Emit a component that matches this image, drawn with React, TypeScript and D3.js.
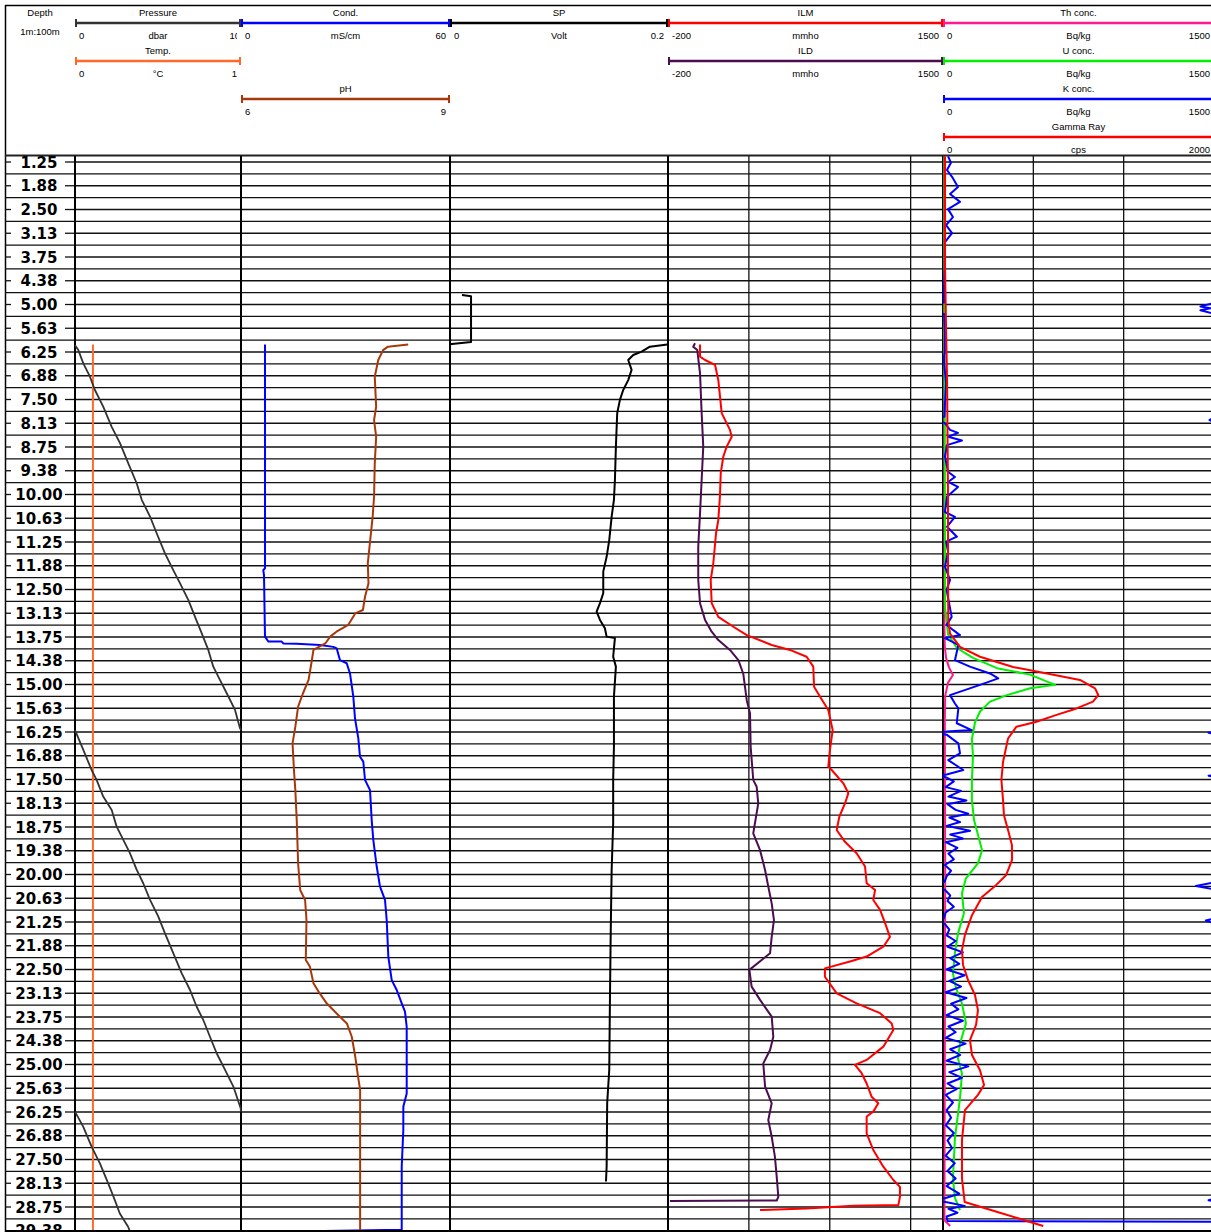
import React from 'react';
import * as d3 from 'd3';

// ---------------- DATA ----------------
const DEPTH_LABELS = ["1.25","1.88","2.50","3.13","3.75","4.38","5.00","5.63","6.25","6.88","7.50","8.13","8.75","9.38","10.00","10.63","11.25","11.88","12.50","13.13","13.75","14.38","15.00","15.63","16.25","16.88","17.50","18.13","18.75","19.38","20.00","20.63","21.25","21.88","22.50","23.13","23.75","24.38","25.00","25.63","26.25","26.88","27.50","28.13","28.75","29.38"];

// Pressure (dbar), wrapped every 10 dbar on display
const PRESSURE_DEPTH = [6.07,6.20,6.55,6.90,7.25,7.69,8.22,8.65,9.18,9.71,10.14,10.58,11.02,11.55,11.99,12.34,12.78,13.22,13.65,14.09,14.53,14.88,15.23,15.67,16.15,16.20,16.72,17.25,17.51,17.95,18.30,18.74,19.09,19.44,19.88,20.23,20.67,21.11,21.55,22.07,22.60,23.04,23.48,23.83,24.27,24.71,25.14,25.58,26.15,26.24,26.64,27.16,27.60,28.13,28.57,28.92,29.27,29.49];
const PRESSURE = [0.0,0.2,0.5,0.9,1.2,1.7,2.21,2.71,3.21,3.72,4.02,4.52,4.92,5.42,5.92,6.33,6.83,7.23,7.63,8.03,8.33,8.73,9.14,9.64,9.94,10.0,10.5,11.0,11.3,11.7,12.21,12.51,12.91,13.31,13.72,14.11,14.52,15.02,15.42,15.92,16.43,16.93,17.33,17.73,18.13,18.54,19.04,19.54,19.98,20.0,20.5,21.0,21.5,22.0,22.4,22.7,23.2,23.4];

// Temperature (°C, shown on a 0-1 scale)
const TEMP_DEPTH = [6.05, 10.0, 15.0, 20.0, 25.0, 29.45];
const TEMP = [0.108, 0.108, 0.108, 0.108, 0.108, 0.108];

// Conductivity (mS/cm)
const COND_DEPTH = [6.05,11.94,11.99,12.12,13.74,13.87,13.87,13.92,13.93,13.96,14.01,14.05,14.36,14.44,14.71,15.32,15.89,16.42,16.90,17.03,17.51,17.78,18.57,19.09,19.79,20.32,20.67,21.20,22.16,22.78,23.04,23.39,23.61,24.01,25.76,26.11,26.72,27.69,29.35,29.38];
const COND = [6.89,6.89,6.40,6.60,6.89,7.84,11.68,12.14,15.99,22.68,26.50,27.48,28.42,30.35,31.29,32.24,32.73,33.68,34.16,35.11,35.60,37.04,37.52,37.98,38.96,39.91,41.34,41.83,42.29,43.27,44.70,46.14,47.08,47.57,47.57,46.60,46.60,46.14,46.14,23.5];

// pH
const PH_DEPTH = [6.05,6.11,6.20,6.46,6.90,7.69,8.04,8.48,9.18,10.06,10.58,11.28,11.81,12.34,12.69,13.04,13.13,13.43,13.61,13.74,13.92,14.09,14.44,14.88,15.23,15.58,16.11,16.55,17.25,17.78,18.57,19.71,20.41,20.67,21.20,22.25,22.43,22.86,23.13,23.39,23.65,23.92,24.27,24.79,25.32,25.67,29.45];
const PH = [8.40,8.11,8.04,7.97,7.92,7.94,7.91,7.94,7.92,7.91,7.89,7.85,7.82,7.83,7.78,7.75,7.64,7.54,7.37,7.28,7.21,7.04,7.01,6.97,6.89,6.82,6.78,6.74,6.76,6.78,6.80,6.82,6.85,6.92,6.94,6.93,6.99,7.04,7.13,7.23,7.37,7.52,7.59,7.64,7.68,7.71,7.71];

// SP (Volt), wrapped on a 0-0.2 scale
const SP_DEPTH = [4.75,4.78,5.99,6.04,6.05,6.07,6.11,6.24,6.33,6.46,6.72,6.99,7.25,7.51,7.86,8.74,9.62,10.14,10.58,11.20,11.64,12.03,12.60,12.86,13.08,13.30,13.52,13.74,13.78,14.27,14.53,15.32,16.64,17.51,18.65,19.88,21.64,23.39,25.14,26.02,27.69,28.08];
const SP = [0.0110,0.0193,0.0193,0.0018,-0.0007,-0.0059,-0.0166,-0.0242,-0.0319,-0.0365,-0.0334,-0.0365,-0.0411,-0.0441,-0.0466,-0.0478,-0.0487,-0.0496,-0.0517,-0.0539,-0.0563,-0.0594,-0.0594,-0.0624,-0.0655,-0.0624,-0.0579,-0.0563,-0.0487,-0.0503,-0.0478,-0.0496,-0.0496,-0.0503,-0.0503,-0.0517,-0.0526,-0.0533,-0.0539,-0.0558,-0.0563,-0.0569];

// ILM (mmho)
const ILM_DEPTH = [6.05,6.37,6.46,6.59,6.99,7.86,8.30,8.48,8.74,9.00,9.44,10.06,10.67,11.02,11.81,12.25,12.86,13.22,13.48,13.70,13.96,14.09,14.27,14.53,15.06,15.32,15.67,16.20,16.72,17.16,17.25,17.60,17.86,18.13,18.48,18.83,19.14,19.44,19.79,20.23,20.41,20.67,20.93,21.28,21.64,21.90,22.16,22.29,22.47,22.69,23.13,23.39,23.65,23.92,24.09,24.53,24.88,25.01,25.23,25.50,25.85,26.02,26.24,26.37,26.81,27.25,27.69,28.04,28.22,28.48,28.70,28.72,28.79,28.83];
const ILM = [-2,-2,29,91,111,132,183,194,163,142,126,121,111,97,80,64,70,111,204,287,441,554,657,698,703,740,791,818,801,791,812,884,915,894,859,843,894,966,1018,1028,1080,1069,1111,1142,1172,1131,1028,925,770,770,843,966,1111,1183,1193,1131,1028,956,997,1028,1059,1100,1069,1028,1028,1069,1131,1193,1234,1234,1224,945,657,369];

// ILD (mmho)
const ILD_DEPTH = [6.02,6.11,6.20,6.81,7.86,8.74,9.62,10.49,11.37,12.25,12.86,13.30,13.61,13.83,14.09,14.36,14.71,15.42,15.76,16.64,17.51,17.69,18.13,18.92,19.36,19.88,20.32,20.76,21.20,21.64,22.07,22.25,22.51,22.95,23.30,23.74,24.27,24.62,24.97,25.58,26.02,26.46,26.90,27.43,27.95,28.48,28.58,28.59];
const ILD = [-33,-44,-19,-2,8,18,8,-2,-13,-13,-2,29,70,111,183,235,265,287,307,311,327,348,358,327,369,400,420,441,455,441,431,379,303,317,369,441,451,431,389,400,441,420,441,461,472,482,472,-188];

// Th conc. (Bq/kg)
const TH_DEPTH = [1.10,5.0,10.0,13.5,14.0,14.3,14.55,14.75,14.95,15.3,16.0,20.0,25.0,29.1,29.25];
const TH = [8,8,8,8,10,17,33,55,28,12,10,12,10,8,40];

// U conc. (Bq/kg)
const U_DEPTH = [1.10,6.0,10.0,13.0,13.68,14.04,14.30,14.57,14.74,15.01,15.10,15.28,15.45,15.71,16.00,16.44,16.88,17.51,18.04,18.57,18.96,19.36,19.70,20.10,20.49,21.02,21.55,22.07,22.60,22.99,23.39,23.92,24.45,24.84,25.24,25.89,26.94,27.99,28.51,28.83];
const U = [8,8,10,12,28,77,166,299,482,620,482,354,260,205,177,160,166,160,160,172,194,216,194,127,105,116,83,66,55,72,105,127,94,83,105,94,66,55,66,94];

// K conc. (Bq/kg), wrapped on a 0-1500 scale (negative readings wrap to the right edge)
const K_DEPTH = [1.10,1.27,1.46,1.64,1.91,2.09,2.30,2.49,2.70,2.91,3.12,3.36,4.00,4.69,4.95,5.05,5.10,5.15,5.25,5.75,6.27,6.35,6.54,7.06,7.60,7.95,8.04,8.12,8.30,8.38,8.48,8.58,8.70,9.00,9.40,9.54,9.67,9.80,10.06,10.46,10.59,10.85,11.11,11.24,11.50,11.90,12.25,12.51,13.22,13.43,13.57,13.70,13.78,13.96,14.36,14.53,14.71,14.84,15.01,15.28,15.50,15.63,16.02,16.20,16.24,16.27,16.32,16.55,16.81,16.99,17.25,17.37,17.40,17.45,17.55,17.70,17.80,17.95,18.05,18.15,18.30,18.40,18.50,18.62,18.72,18.85,18.95,19.05,19.15,19.30,19.45,19.60,19.75,19.90,20.05,20.20,20.30,20.40,20.55,20.70,20.85,21.00,21.15,21.21,21.30,21.45,21.60,21.75,21.90,22.05,22.20,22.35,22.50,22.65,22.80,22.95,23.10,23.25,23.40,23.55,23.70,23.85,24.00,24.15,24.30,24.45,24.60,24.75,24.90,25.05,25.20,25.35,25.50,25.65,25.80,26.00,26.20,26.40,26.60,26.80,27.00,27.20,27.40,27.60,27.80,28.00,28.20,28.40,28.52,28.57,28.62,28.72,28.80,28.90,29.00,29.12,29.14];
const K = [28,44,22,50,83,39,94,28,55,17,50,11,10,5,6,-75,-20,-75,6,11,10,6,6,17,11,8,-25,10,39,83,28,105,22,11,28,66,28,83,22,11,66,22,77,17,28,11,39,20,48,20,57,94,11,85,66,149,260,306,205,39,66,85,76,159,20,-30,20,85,94,29,112,20,-30,20,60,15,100,30,130,25,70,140,35,95,20,150,40,110,15,80,30,60,10,45,20,8,-100,10,40,25,60,15,5,-45,10,35,20,70,25,110,40,90,20,120,35,100,15,130,45,85,20,110,30,70,15,125,40,95,20,140,35,105,25,75,15,55,20,45,15,60,25,50,15,65,25,70,20,90,10,-30,15,120,30,80,20,25,1495];

// Gamma Ray (cps)
const GR_DEPTH = [1.10,4.0,5.5,7.0,10.0,12.0,13.31,13.66,14.01,14.27,14.54,14.71,14.88,15.10,15.28,15.45,15.63,15.80,15.98,16.11,16.42,17.04,17.51,18.04,18.44,18.83,19.23,19.62,20.02,20.28,20.59,21.07,21.59,21.99,22.38,22.78,23.17,23.57,23.96,24.36,24.75,25.15,25.54,25.80,26.20,26.99,28.00,28.62,28.90,29.25];
const GR = [15,15,22,30,37,37,39,52,125,273,517,768,1011,1122,1146,1107,986,838,690,542,480,443,431,443,450,480,509,509,465,391,288,214,162,140,148,185,236,258,244,199,214,273,303,258,162,140,140,160,420,740];

// ---------------- LAYOUT ----------------
const W = 1211;
const H = 1232;
const BODY_TOP = 155;
const X_P: [number, number] = [75, 241];
const X_C: [number, number] = [241, 450];
const X_SP: [number, number] = [450, 668];
const X_R: [number, number] = [668, 943];
const X_G: [number, number] = [943, 1214];

const ROW_Y = [23, 61, 99, 137];

type HeaderItem = { title: string; unit: string; lo: string; hi: string; color: string; row: number; x: [number, number] };

const HEADERS: HeaderItem[] = [
  { title: 'Pressure', unit: 'dbar', lo: '0', hi: '10', color: '#333333', row: 0, x: X_P },
  { title: 'Temp.', unit: '°C', lo: '0', hi: '1', color: '#ff6a2a', row: 1, x: X_P },
  { title: 'Cond.', unit: 'mS/cm', lo: '0', hi: '60', color: '#0000ff', row: 0, x: X_C },
  { title: 'pH', unit: '', lo: '6', hi: '9', color: '#a8380c', row: 2, x: X_C },
  { title: 'SP', unit: 'Volt', lo: '0', hi: '0.2', color: '#000000', row: 0, x: X_SP },
  { title: 'ILM', unit: 'mmho', lo: '-200', hi: '1500', color: '#ff0000', row: 0, x: X_R },
  { title: 'ILD', unit: 'mmho', lo: '-200', hi: '1500', color: '#4b0c50', row: 1, x: X_R },
  { title: 'Th conc.', unit: 'Bq/kg', lo: '0', hi: '1500', color: '#ff1a8c', row: 0, x: X_G },
  { title: 'U conc.', unit: 'Bq/kg', lo: '0', hi: '1500', color: '#00f000', row: 1, x: X_G },
  { title: 'K conc.', unit: 'Bq/kg', lo: '0', hi: '1500', color: '#0000ff', row: 2, x: X_G },
  { title: 'Gamma Ray', unit: 'cps', lo: '0', hi: '2000', color: '#ff0000', row: 3, x: X_G },
];

// split a series into display segments, wrapping values into [lo, hi]
function wrapSegs(ds: number[], vs: number[], lo: number, hi: number): [number, number][][] {
  const w = hi - lo;
  const band = (v: number) => Math.floor((v - lo) / w);
  const segs: [number, number][][] = [];
  let cur: [number, number][] = [];
  for (let i = 0; i < ds.length; i++) {
    const d = ds[i];
    const v = vs[i];
    const b1 = band(v);
    if (i > 0) {
      const d0 = ds[i - 1];
      const v0 = vs[i - 1];
      let b0 = band(v0);
      while (b0 !== b1) {
        const step = b1 > b0 ? 1 : -1;
        const edge = lo + (step > 0 ? b0 + 1 : b0) * w;
        const t = (edge - v0) / (v - v0);
        const de = d0 + t * (d - d0);
        cur.push([de, step > 0 ? hi : lo]);
        segs.push(cur);
        cur = [[de, step > 0 ? lo : hi]];
        b0 += step;
      }
    }
    cur.push([d, v - b1 * w]);
  }
  segs.push(cur);
  return segs;
}

const FONT = "'Liberation Sans', Arial, sans-serif";

export default function App() {
  const y = d3.scaleLinear().domain([1.25, 28.75]).range([162, 1207]);

  const xP = d3.scaleLinear().domain([0, 10]).range(X_P);
  const xT = d3.scaleLinear().domain([0, 1]).range(X_P);
  const xC = d3.scaleLinear().domain([0, 60]).range(X_C);
  const xPH = d3.scaleLinear().domain([6, 9]).range(X_C);
  const xSP = d3.scaleLinear().domain([0, 0.2]).range(X_SP);
  const xR = d3.scaleLinear().domain([-200, 1500]).range(X_R);
  const xN = d3.scaleLinear().domain([0, 1500]).range(X_G);
  const xGR = d3.scaleLinear().domain([0, 2000]).range(X_G);

  const mk = (xs: d3.ScaleLinear<number, number>) =>
    d3.line<[number, number]>().x((p) => xs(p[1])).y((p) => y(p[0]));

  const pairs = (ds: number[], vs: number[]) => [ds.map((d, i) => [d, vs[i]] as [number, number])];

  const curves: { segs: [number, number][][]; xs: d3.ScaleLinear<number, number>; color: string; w: number }[] = [
    { segs: wrapSegs(TEMP_DEPTH, TEMP, 0, 1), xs: xT, color: '#ff6a2a', w: 2 },
    { segs: wrapSegs(PRESSURE_DEPTH, PRESSURE, 0, 10), xs: xP, color: '#333333', w: 1.8 },
    { segs: pairs(COND_DEPTH, COND), xs: xC, color: '#0000ff', w: 2 },
    { segs: pairs(PH_DEPTH, PH), xs: xPH, color: '#a8380c', w: 2 },
    { segs: wrapSegs(SP_DEPTH, SP, 0, 0.2), xs: xSP, color: '#000000', w: 2 },
    { segs: pairs(ILD_DEPTH, ILD), xs: xR, color: '#4b0c50', w: 2 },
    { segs: pairs(ILM_DEPTH, ILM), xs: xR, color: '#ff0000', w: 2 },
    { segs: pairs(TH_DEPTH, TH), xs: xN, color: '#ff1a8c', w: 2 },
    { segs: pairs(U_DEPTH, U), xs: xN, color: '#00f000', w: 2 },
    { segs: wrapSegs(K_DEPTH, K, 0, 1500), xs: xN, color: '#0000ff', w: 2 },
    { segs: pairs(GR_DEPTH, GR), xs: xGR, color: '#ff0000', w: 2 },
  ];

  const gridDepths = d3.range(0, 95).map((k) => 0.9375 + k * 0.3125).filter((d) => y(d) <= H + 2);
  const labelDepths = DEPTH_LABELS.map((s) => parseFloat(s));

  const resGrid = [300, 800, 1300];
  const gamGrid = [500, 1000];

  return (
    <div style={{ position: 'absolute', left: 0, top: 0 }}>
      <svg width={W} height={H} style={{ display: 'block', background: '#ffffff' }}>
        <defs>
          <clipPath id="body">
            <rect x={0} y={BODY_TOP + 1} width={W} height={H - BODY_TOP} />
          </clipPath>
          <clipPath id="pclip">
            <rect x={X_P[0]} y={0} width={X_P[1] - X_P[0] - 4} height={BODY_TOP} />
          </clipPath>
        </defs>
        <rect x={0} y={0} width={W} height={H} fill="#ffffff" />

        {/* Header frame */}
        <line x1={5} x2={W} y1={5.5} y2={5.5} stroke="#000" strokeWidth={1.5} />
        <line x1={5.5} x2={5.5} y1={5} y2={H} stroke="#000" strokeWidth={1.5} />
        <text x={40} y={13} fontFamily={FONT} fontSize={9.5} textAnchor="middle" dominantBaseline="middle">Depth</text>
        <text x={40} y={32} fontFamily={FONT} fontSize={9.5} textAnchor="middle" dominantBaseline="middle">1m:100m</text>

        {HEADERS.map((h, i) => {
          const by = ROW_Y[h.row];
          const [x0, x1] = h.x;
          const cx = (x0 + x1) / 2;
          const isP = h.title === 'Pressure';
          return (
            <g key={i}>
              <text x={cx} y={by - 10} fontFamily={FONT} fontSize={9.5} textAnchor="middle" dominantBaseline="middle">{h.title}</text>
              <line x1={x0} x2={x1} y1={by} y2={by} stroke={h.color} strokeWidth={2.5} />
              <line x1={x0 + 1} x2={x0 + 1} y1={by - 4} y2={by + 4} stroke={h.color} strokeWidth={2} />
              <line x1={x1 - 1} x2={x1 - 1} y1={by - 4} y2={by + 4} stroke={h.color} strokeWidth={2} />
              <text x={x0 + 4} y={by + 13} fontFamily={FONT} fontSize={9.5} dominantBaseline="middle">{h.lo}</text>
              {h.unit && (
                <text x={cx} y={by + 13} fontFamily={FONT} fontSize={9.5} textAnchor="middle" dominantBaseline="middle">{h.unit}</text>
              )}
              <text x={isP ? x1 - 1 : x1 - 4} y={by + 13} fontFamily={FONT} fontSize={9.5} textAnchor="end" dominantBaseline="middle" clipPath={isP ? 'url(#pclip)' : undefined}>{h.hi}</text>
            </g>
          );
        })}

        <line x1={5} x2={W} y1={BODY_TOP + 0.5} y2={BODY_TOP + 0.5} stroke="#222" strokeWidth={2} />

        {/* Body */}
        <g clipPath="url(#body)">
          {gridDepths.map((d, i) => {
            const isLabel = labelDepths.some((l) => Math.abs(l - d) < 0.01);
            const yy = y(d);
            return (
              <g key={i}>
                <line x1={X_P[0]} x2={W} y1={yy} y2={yy} stroke="#111" strokeWidth={1.3} />
                {isLabel ? (
                  <>
                    <line x1={5} x2={11} y1={yy} y2={yy} stroke="#111" strokeWidth={1.3} />
                    <line x1={65} x2={75} y1={yy} y2={yy} stroke="#111" strokeWidth={1.3} />
                  </>
                ) : (
                  <line x1={5} x2={75} y1={yy} y2={yy} stroke="#111" strokeWidth={1.3} />
                )}
              </g>
            );
          })}
          {DEPTH_LABELS.map((s, i) => (
            <text key={i} x={39} y={y(labelDepths[i]) + 1} fontFamily="'DejaVu Sans', sans-serif" fontWeight="bold" fontSize={15} textAnchor="middle" dominantBaseline="middle" fill="#000">{s}</text>
          ))}

          {resGrid.map((v, i) => (
            <line key={'r' + i} x1={xR(v)} x2={xR(v)} y1={BODY_TOP} y2={H} stroke="#111" strokeWidth={1.3} />
          ))}
          {gamGrid.map((v, i) => (
            <line key={'g' + i} x1={xN(v)} x2={xN(v)} y1={BODY_TOP} y2={H} stroke="#111" strokeWidth={1.3} />
          ))}
          {[X_P[0], X_C[0], X_SP[0], X_R[0], X_G[0]].map((x, i) => (
            <line key={'t' + i} x1={x} x2={x} y1={BODY_TOP} y2={H} stroke="#000" strokeWidth={2} />
          ))}

          {curves.map((c, i) => (
            <g key={'c' + i}>
              {c.segs.filter((s) => s.length > 1).map((s, j) => (
                <path key={j} d={mk(c.xs)(s) || ''} fill="none" stroke={c.color} strokeWidth={c.w} strokeLinejoin="round" />
              ))}
            </g>
          ))}
        </g>
        <line x1={5} x2={W} y1={H - 1} y2={H - 1} stroke="#000" strokeWidth={2} />
      </svg>
    </div>
  );
}
